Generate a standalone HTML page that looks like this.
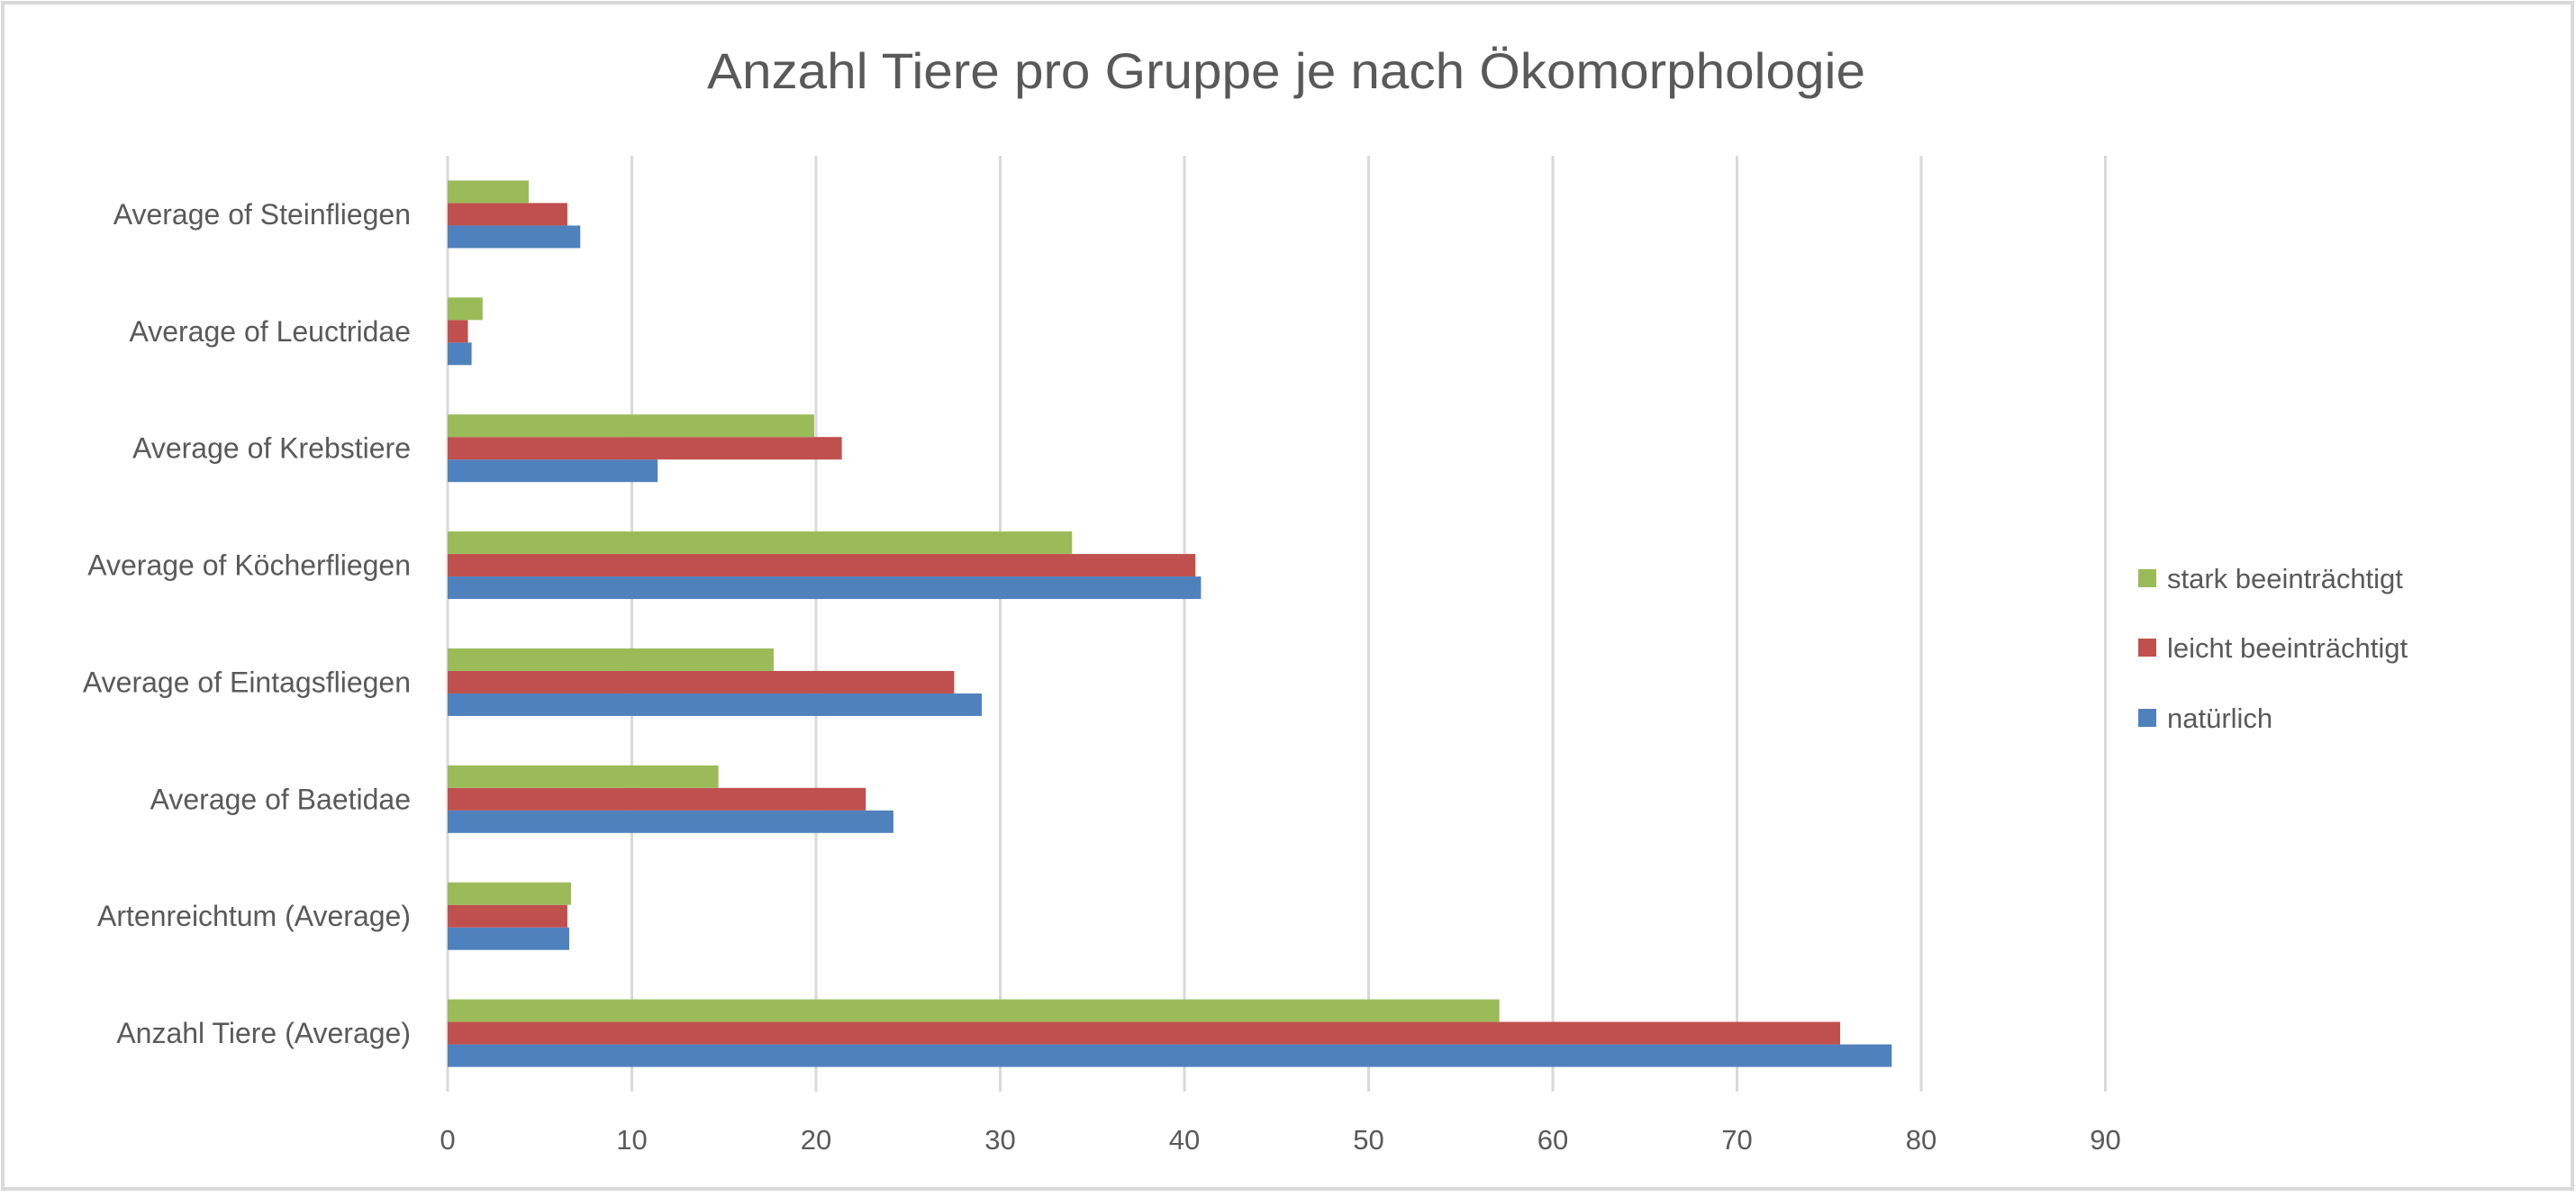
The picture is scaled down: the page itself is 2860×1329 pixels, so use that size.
<!DOCTYPE html>
<html><head><meta charset="utf-8"><style>
html,body{margin:0;padding:0;background:#fff}
svg{display:block;font-family:"Liberation Sans",sans-serif}
</style></head><body>
<svg id="chart" width="2860" height="1329">
<rect x="3" y="3" width="2853" height="1317" fill="#fff" stroke="#d9d9d9" stroke-width="4"/>
<text x="1428" y="98" text-anchor="middle" font-size="56" fill="#595959" textLength="1286" lengthAdjust="spacingAndGlyphs">Anzahl Tiere pro Gruppe je nach Ökomorphologie</text>
<g id="grid"></g><g id="bars"></g><g id="labels"></g><g id="legend"></g>
</svg>
<script>
const categories = ["Anzahl Tiere (Average)","Artenreichtum (Average)","Average of Baetidae","Average of Eintagsfliegen","Average of Köcherfliegen","Average of Krebstiere","Average of Leuctridae","Average of Steinfliegen"];
const seriesNames = ["natürlich","leicht beeinträchtigt","stark beeinträchtigt"];
const natuerlich = [78.4,6.6,24.2,29.0,40.9,11.4,1.3,7.2];
const leicht = [75.6,6.5,22.7,27.5,40.6,21.4,1.1,6.5];
const stark = [57.1,6.7,14.7,17.7,33.9,19.9,1.9,4.4];
const ticks = [0,10,20,30,40,50,60,70,80,90];
(function(){
const colors = ["#4f81bd","#c0504d","#9bbb59"];
const NS="http://www.w3.org/2000/svg";
const x0=497, pxPerUnit=20.45, plotTop=173, plotBottom=1212;
const band=(plotBottom-plotTop)/categories.length, barH=25;
const xs=v=>x0+v*pxPerUnit;
function mk(t,a,p){const e=document.createElementNS(NS,t);for(const k in a)e.setAttribute(k,a[k]);p.appendChild(e);return e;}
const grid=document.getElementById('grid');
ticks.forEach(t=>{
  const l=mk('line',{x1:xs(t),x2:xs(t),y1:plotTop,y2:plotBottom,stroke:'#d9d9d9','stroke-width':3},grid);
  
  
  const tx=mk('text',{x:xs(t),y:1276,'text-anchor':'middle','font-size':31,fill:'#595959'},grid);
  tx.textContent=t;
  
  
});
const bars=document.getElementById('bars');
const labels=document.getElementById('labels');
const data=[natuerlich,leicht,stark];
categories.forEach((c,i)=>{
  const cy=plotBottom-band*(i+0.5);
  data.forEach((s,j)=>{
    const y=cy+barH*1.5-barH*(j+1);
    const r=mk('rect',{x:xs(0),y:y,width:Math.max(0,xs(s[i])-xs(0)),height:barH,fill:colors[j]},bars);
    
    
  });
  const t=mk('text',{x:456,y:cy+11,'text-anchor':'end','font-size':32,fill:'#595959'},labels);
  t.textContent=c;
  
  
});
const legend=document.getElementById('legend');
const legY=[797,719,642];
seriesNames.forEach((n,j)=>{
  const g=mk('g',{},legend);
  
  
  mk('rect',{x:2374,y:legY[j]-10,width:20,height:20,fill:colors[j]},g);
  const t=mk('text',{x:2406,y:legY[j]+11,'font-size':31,fill:'#595959'},g);
  t.textContent=n;
});
})();
</script>
</body></html>
